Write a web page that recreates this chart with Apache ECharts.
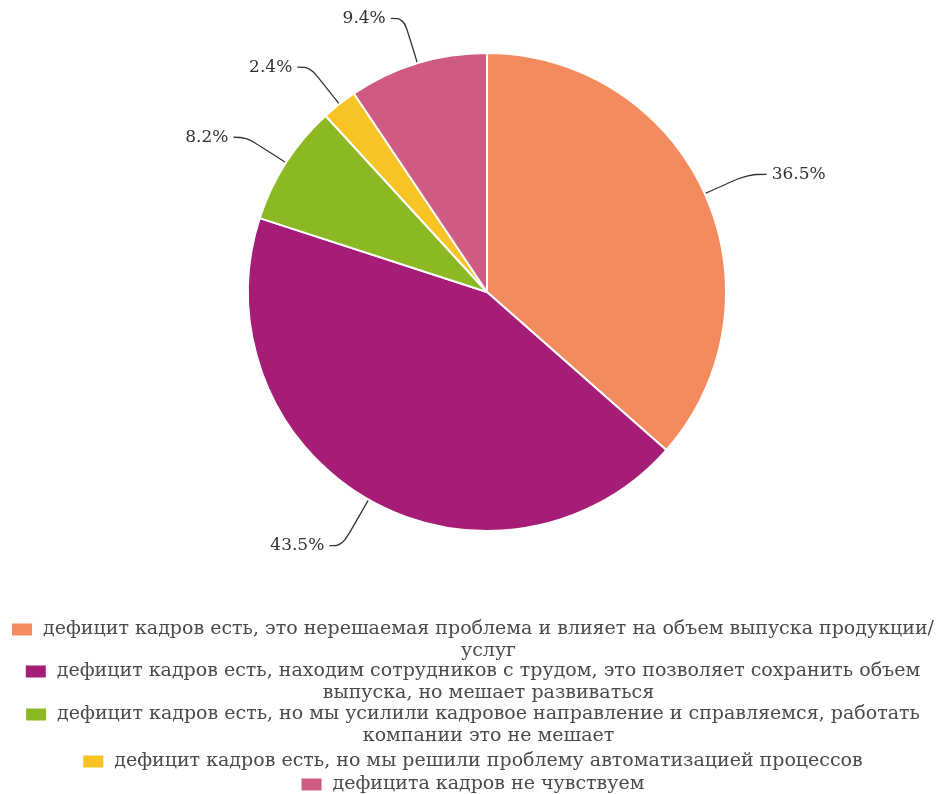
<!DOCTYPE html>
<html><head><meta charset="utf-8">
<script src="https://cdn.jsdelivr.net/npm/echarts@6/dist/echarts.min.js"></script>
<style>html,body{margin:0;padding:0;background:#fff}#c{width:944px;height:794px}</style>
</head><body><div id="c"></div>
<script>
const categories = [
  'дефицит кадров есть, это нерешаемая проблема и влияет на объем выпуска продукции/услуг',
  'дефицит кадров есть, находим сотрудников с трудом, это позволяет сохранить объем выпуска, но мешает развиваться',
  'дефицит кадров есть, но мы усилили кадровое направление и справляемся, работать компании это не мешает',
  'дефицит кадров есть, но мы решили проблему автоматизацией процессов',
  'дефицита кадров не чувствуем'
];
const values = [36.5, 43.5, 8.2, 2.4, 9.4];
const legendLines = [
  ['дефицит кадров есть, это нерешаемая проблема и влияет на объем выпуска продукции/', 'услуг'],
  ['дефицит кадров есть, находим сотрудников с трудом, это позволяет сохранить объем', 'выпуска, но мешает развиваться'],
  ['дефицит кадров есть, но мы усилили кадровое направление и справляемся, работать', 'компании это не мешает'],
  ['дефицит кадров есть, но мы решили проблему автоматизацией процессов'],
  ['дефицита кадров не чувствуем']
];
const colors = ['#f38b5f', '#a51d76', '#8cb923', '#f7c325', '#cf5a84'];
const legendCenters = [627, 669, 712, 759, 782];
const lineLen1 = [47, 53, 47, 47, 47];
const lineLen2 = [19, 13, 13, 13, 13];

const FONT = "'DejaVu Serif', serif";
const LH = 22;
const FS = 19;
const legends = categories.map((name, i) => {
  const n = legendLines[i].length;
  return {
    data: [name],
    left: 'center',
    top: legendCenters[i] - 7,
    padding: 0,
    itemWidth: 22,
    itemHeight: 14,
    icon: 'rect',
    selectedMode: false,
    formatter: () => legendLines[i].map(l => '{c|' + l + '}').join('\n'),
    textStyle: {
      fontFamily: FONT,
      fontSize: FS,
      color: '#4a4a4a',
      padding: [LH * (n - 1), 0, 0, 5],
      rich: { c: { align: 'center', fontFamily: FONT, fontSize: FS, color: '#4a4a4a', lineHeight: LH } }
    }
  };
});

const chart = echarts.init(document.getElementById('c'), null, { renderer: 'canvas' });
chart.setOption({
  backgroundColor: '#fff',
  color: colors,
  animation: false,
  legend: legends,
  series: [{
    type: 'pie',
    center: [487, 292],
    radius: [0, 239],
    startAngle: 90,
    clockwise: true,
    data: categories.map((c, i) => ({
      name: c, value: values[i],
      labelLine: { length: lineLen1[i], length2: lineLen2[i] }
    })),
    itemStyle: { borderColor: '#fff', borderWidth: 2 },
    label: {
      show: true,
      formatter: p => p.value.toFixed(1) + '%',
      fontFamily: FONT,
      fontSize: 17,
      color: '#333'
    },
    labelLine: { show: true, smooth: 0.4, length: 47, length2: 16, lineStyle: { color: '#333', width: 1.3 } }
  }]
});
</script></body></html>
